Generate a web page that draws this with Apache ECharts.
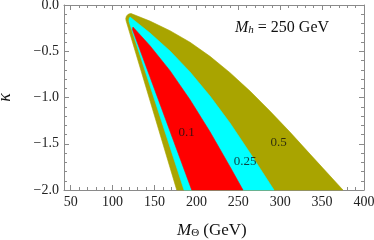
<!DOCTYPE html>
<html><head><meta charset="utf-8">
<script src="https://cdn.jsdelivr.net/npm/echarts@6/dist/echarts.min.js"></script>
<style>html,body{margin:0;padding:0;background:#fff}#c{width:374px;height:240px}</style>
</head><body><div id="c"></div>
<script>
// ---- data ----
var xMajorTicks = [50, 100, 150, 200, 250, 300, 350, 400];
var xMinorTicks = [50,60,70,80,90,100,110,120,130,140,150,160,170,180,190,200,210,220,230,240,250,260,270,280,290,300,310,320,330,340,350,360,370,380,390,400];
var yMajorTicks = [-2.0, -1.5, -1.0, -0.5, 0.0];
var yMinorTicks = [-2.0,-1.9,-1.8,-1.7,-1.6,-1.5,-1.4,-1.3,-1.2,-1.1,-1.0,-0.9,-0.8,-0.7,-0.6,-0.5,-0.4,-0.3,-0.2,-0.1,0.0];

// region boundaries (M_Theta, kappa)
var region05 = [[122.0,-0.092],[144.6,-0.174],[168.5,-0.278],[192.4,-0.403],[216.2,-0.555],[240.1,-0.732],[264.0,-0.931],[287.8,-1.147],[311.7,-1.374],[335.6,-1.612],[374.9,-2.0],[176.5,-2.0],[116.0,-0.168],[115.7,-0.146],[116.6,-0.119],[119.0,-0.097]];
var region025 = [[120.8,-0.130],[144.6,-0.303],[168.5,-0.497],[192.4,-0.724],[216.2,-0.984],[240.1,-1.276],[264.0,-1.600],[292.6,-2.0],[185.2,-2.0],[119.6,-0.178],[119.6,-0.151]];
var region01 = [[124.3,-0.238],[144.6,-0.440],[168.5,-0.710],[192.4,-1.024],[216.2,-1.370],[240.1,-1.748],[255.6,-2.0],[194.4,-2.0],[123.7,-0.265]];

var contourNames = ['0.1', '0.25', '0.5'];
var contourLabelX = [188.2, 258.0, 298.0];
var contourLabelY = [-1.378, -1.692, -1.487];

// ---- chart ----
var SERIF = '"Liberation Serif","DejaVu Serif",serif';
var FRAME = '#8a8a8a';
var chart = echarts.init(document.getElementById('c'), null, {renderer: 'canvas'});

function poly(pts, color) {
  return {
    type: 'custom', xAxisIndex: 0, yAxisIndex: 0, data: pts, encode: {x: 0, y: 1},
    renderItem: function (params, api) {
      if (params.dataIndex !== 0) return null;
      return {type: 'polygon', shape: {points: pts.map(function (p) { return api.coord(p); })},
              style: {fill: color, stroke: color, lineWidth: 0.6}};
    },
    silent: true, animation: false
  };
}

function xAx(pos, ticks, len, showLine, showLabel) {
  return {
    type: 'value', position: pos, min: 42, max: 400,
    axisLine: {show: showLine, onZero: false, lineStyle: {color: FRAME, width: 1}},
    axisTick: {show: true, inside: true, length: len, customValues: ticks, lineStyle: {color: FRAME, width: 1}},
    axisLabel: {show: showLabel, customValues: xMajorTicks, margin: 5, color: '#222', fontSize: 14, fontFamily: SERIF},
    splitLine: {show: false}
  };
}
function yAx(pos, ticks, len, showLine, showLabel) {
  return {
    type: 'value', position: pos, min: -2, max: 0,
    axisLine: {show: showLine, onZero: false, lineStyle: {color: FRAME, width: 1}},
    axisTick: {show: true, inside: true, length: len, customValues: ticks, lineStyle: {color: FRAME, width: 1}},
    axisLabel: {show: showLabel, customValues: yMajorTicks, margin: 5, color: '#222', fontSize: 14, fontFamily: SERIF,
      formatter: function (v) { var s = Math.abs(v).toFixed(1); return v < -1e-9 ? '\u2212' + s : s; }},
    splitLine: {show: false}
  };
}

var yAxes = [yAx('left', yMajorTicks, 5, true, true), yAx('left', yMinorTicks, 3, false, false),
             yAx('right', yMajorTicks, 5, true, false), yAx('right', yMinorTicks, 3, false, false)];
yAxes[0].name = '\u03BA';
yAxes[0].nameLocation = 'middle';
yAxes[0].nameRotate = 90;
yAxes[0].nameGap = 50;
yAxes[0].nameTextStyle = {fontSize: 18, fontStyle: 'italic', fontFamily: SERIF, color: '#111'};

chart.setOption({
  animation: false,
  grid: {left: 64, right: 10, top: 5, bottom: 50, containLabel: false, outerBoundsMode: 'none'},
  xAxis: [xAx('bottom', xMajorTicks, 5, true, true), xAx('bottom', xMinorTicks, 3, false, false),
          xAx('top', xMajorTicks, 5, true, false), xAx('top', xMinorTicks, 3, false, false)],
  yAxis: yAxes,
  series: [
    poly(region05, '#a9a400'),
    poly(region025, '#00ffff'),
    poly(region01, '#ff0000'),
    {
      type: 'scatter', xAxisIndex: 0, yAxisIndex: 0, symbolSize: 0, silent: true,
      data: contourNames.map(function (n, i) { return {name: n, value: [contourLabelX[i], contourLabelY[i]]}; }),
      label: {show: true, position: 'inside', formatter: '{b}', color: '#111', fontSize: 13, fontFamily: SERIF},
      z: 5
    }
  ],
  graphic: [
    {type: 'text', left: 235, top: 16, z: 10,
     style: {text: '{i|M}{s|h}{n| = 250 GeV}', fill: '#111',
       rich: {
         i: {fontSize: 16, fontStyle: 'italic', fontFamily: SERIF, lineHeight: 18, verticalAlign: 'bottom'},
         s: {fontSize: 11, fontStyle: 'italic', fontFamily: SERIF, lineHeight: 8, verticalAlign: 'bottom', padding: [9, 0, 0, 0]},
         n: {fontSize: 16, fontFamily: SERIF, lineHeight: 18, verticalAlign: 'bottom'}
       }}},
    {type: 'text', left: 177, top: 218, z: 10,
     style: {text: '{i|M}{s|\u0398}{n| (GeV)}', fill: '#111',
       rich: {
         i: {fontSize: 17, fontStyle: 'italic', fontFamily: SERIF, lineHeight: 19, verticalAlign: 'bottom'},
         s: {fontSize: 11, fontFamily: SERIF, lineHeight: 8, verticalAlign: 'bottom', padding: [10, 0, 0, 0]},
         n: {fontSize: 17, fontFamily: SERIF, lineHeight: 19, verticalAlign: 'bottom'}
       }}}
  ]
});
</script></body></html>
